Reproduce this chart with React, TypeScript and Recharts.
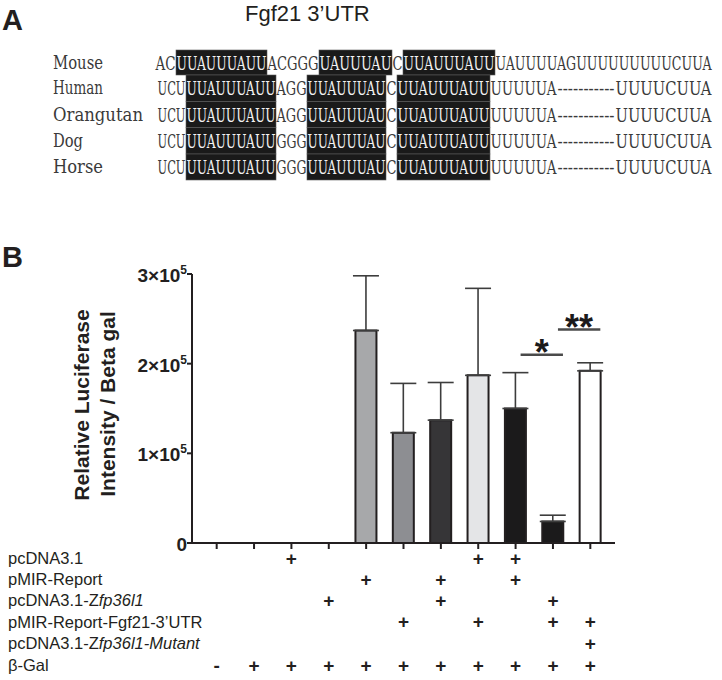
import React from 'react';
import { BarChart, Bar, XAxis, YAxis, Cell, ErrorBar, ReferenceLine } from 'recharts';

// ---- panel B data ----
const groups = ['1', '2', '3', '4', '5', '6', '7', '8', '9', '10', '11'];
const meanValues = [null, null, null, null, 237000, 123000, 137000, 187000, 150000, 24000, 192000];
const errorValues = [null, null, null, null, 61000, 55000, 42000, 97000, 40000, 7000, 9000];
const barColors = ['#fff', '#fff', '#fff', '#fff', '#a7a8aa', '#8d8e92', '#363537', '#e4e5e7', '#1b1a1b', '#1b1a1b', '#ffffff'];
const yTicks = [0, 100000, 200000, 300000];

// plus / minus table under the x axis
const rowLabels = ['pcDNA3.1', 'pMIR-Report', 'pcDNA3.1-Zfp36l1', 'pMIR-Report-Fgf21-3\u2019UTR', 'pcDNA3.1-Zfp36l1-Mutant', '\u03b2-Gal'];
const pcDNARow = ['', '', '+', '', '', '', '', '+', '+', '', ''];
const pMIRRow = ['', '', '', '', '+', '', '+', '', '+', '', ''];
const zfpRow = ['', '', '', '+', '', '', '+', '', '', '+', ''];
const fgfRow = ['', '', '', '', '', '+', '', '+', '', '+', '+'];
const mutantRow = ['', '', '', '', '', '', '', '', '', '', '+'];
const bGalRow = ['-', '+', '+', '+', '+', '+', '+', '+', '+', '+', '+'];
const tableRows = [pcDNARow, pMIRRow, zfpRow, fgfRow, mutantRow, bGalRow];

// significance marks: [from group, to group, height, stars]
const sigMarks: [string, string, number, string][] = [
  ['9', '10', 210000, '*'],
  ['10', '11', 238000, '**'],
];

// ---- panel A data ----
const species = ['Mouse', 'Human', 'Orangutan', 'Dog', 'Horse'];
const mouseSeq = ['AC', 'UUAUUUAUU', 'ACGGG', 'UAUUUAU', 'C', 'UUAUUUAUU', 'UAUUUUAGUUUUUUUUUCUUA'];
const humanSeq = ['UCU', 'UUAUUUAUU', 'AGG', 'UUAUUUAU', 'C', 'UUAUUUAUU', 'UUUUUA', '-----------', 'UUUUCUUA'];
const orangutanSeq = ['UCU', 'UUAUUUAUU', 'AGG', 'UUAUUUAU', 'C', 'UUAUUUAUU', 'UUUUUA', '-----------', 'UUUUCUUA'];
const dogSeq = ['UCU', 'UUAUUUAUU', 'GGG', 'UUAUUUAU', 'C', 'UUAUUUAUU', 'UUUUUA', '-----------', 'UUUUCUUA'];
const horseSeq = ['UCU', 'UUAUUUAUU', 'GGG', 'UUAUUUAU', 'C', 'UUAUUUAUU', 'UUUUUA', '-----------', 'UUUUCUUA'];
const sequences = [mouseSeq, humanSeq, orangutanSeq, dogSeq, horseSeq];
const boxedSegments = [1, 3, 5];

// layout for panel A (segment edges in px)
const mouseEdges = [155, 176, 267, 319, 392, 403, 495, 712];
const otherEdges = [157, 186, 276, 307, 386, 397, 490, 557, 615, 712];
const rowBands = [[50, 75], [75, 101.5], [101.5, 127.5], [127.5, 154], [154, 180]];

const data = groups.map((g, i) => ({
  group: g,
  mean: meanValues[i],
  err: errorValues[i] == null ? null : [0, errorValues[i]],
}));

const INK = '#231f20';
const SANS = "'Liberation Sans', Arial, sans-serif";
const SEQ = "'DejaVu Serif', 'Liberation Serif', serif";

function YTick(props: any) {
  const { x, y, payload } = props;
  const n = payload.value / 100000;
  return (
    <text x={x} y={y} dy={8} textAnchor="end" fontFamily={SANS} fontWeight="bold" fontSize={19} fill={INK}>
      {n === 0 ? '0' : (
        <>
          <tspan>{`${n}\u00d710`}</tspan>
          <tspan dy={-8} fontSize={12}>5</tspan>
        </>
      )}
    </text>
  );
}

const tableY = [558, 579, 600, 621.5, 643, 665];

function TableTick(props: any) {
  const { x, index } = props;
  return (
    <g>
      {tableRows.map((row, r) =>
        row[index] ? (
          <text key={r} x={x} y={tableY[r]} textAnchor="middle" dominantBaseline="central"
            fontFamily={SANS} fontWeight="bold" fontSize={19} fill={INK}>
            {row[index]}
          </text>
        ) : null,
      )}
    </g>
  );
}

function SigShape(stars: string) {
  return (p: any) => {
    const x1 = p.x1 + 5;
    const x2 = p.x2 + 10;
    return (
      <g>
        <line x1={x1} x2={x2} y1={p.y1} y2={p.y2} stroke="#4a4a4a" strokeWidth={2.5} />
        <text x={(x1 + x2) / 2} y={p.y1 + 10} textAnchor="middle" fontFamily={SANS}
          fontWeight="bold" fontSize={36} fill="#1b1a1b">{stars}</text>
      </g>
    );
  };
}

function RowLabel({ text, y }: { text: string; y: number }) {
  // gene names are set in italics
  const lead = 'pcDNA3.1-Z';
  return (
    <text x={8} y={y} dominantBaseline="central" fontFamily={SANS} fontSize={16.5} fill={INK}>
      {text.startsWith(lead) ? (
        <>
          <tspan>{lead}</tspan>
          <tspan fontStyle="italic">{text.slice(lead.length)}</tspan>
        </>
      ) : text}
    </text>
  );
}

function PanelA() {
  return (
    <g>
      <text x={2} y={30} fontFamily={SANS} fontWeight="bold" fontSize={29} fill={INK}>A</text>
      <text x={245} y={21} fontFamily={SANS} fontSize={22} fill={INK}>Fgf21 3{'\u2019'}UTR</text>
      {sequences.map((seq, r) => {
        const edges = r === 0 ? mouseEdges : otherEdges;
        const [top, bottom] = rowBands[r];
        const base = (top + bottom) / 2 + 7;
        return (
          <g key={r}>
            <text x={53} y={base - 1} fontFamily={SEQ} fontSize={18} fill="#3a3a3a"
              textLength={species[r].length * 10} lengthAdjust="spacingAndGlyphs">{species[r]}</text>
            {seq.map((s, k) => {
              const x0 = edges[k];
              const x1 = edges[k + 1];
              const boxed = boxedSegments.includes(k);
              return (
                <g key={k}>
                  {boxed && <rect x={x0} y={top} width={x1 - x0} height={bottom - top} fill="#1a1a1a" stroke="#5a5a5a" strokeWidth={0.6} />}
                  <text x={x0 + 0.5} y={base} fontFamily={SEQ} fontSize={19} fill={boxed ? '#f2f2f2' : '#3a3a3a'}
                    textLength={x1 - x0 - 1} lengthAdjust="spacingAndGlyphs">{s}</text>
                </g>
              );
            })}
          </g>
        );
      })}
    </g>
  );
}

export default function App() {
  return (
    <div style={{ position: 'absolute', left: 0, top: 0, width: 722, height: 680, background: '#fff', overflow: 'hidden' }}>
      <div style={{ position: 'absolute', left: 0, top: 0 }}>
        <BarChart width={722} height={680} data={data} barSize={21}
          margin={{ top: 274, right: 107, bottom: 7, left: 132 }}>
          <XAxis dataKey="group" type="category" interval={0} padding={{ left: 6, right: 6 }}
            axisLine={{ stroke: INK, strokeWidth: 2 }} tickLine={{ stroke: INK, strokeWidth: 2 }}
            tickSize={6} height={130} tick={TableTick} />
          <YAxis domain={[0, 300000]} ticks={yTicks} width={60} interval={0}
            axisLine={{ stroke: INK, strokeWidth: 2 }} tickLine={{ stroke: INK, strokeWidth: 2 }}
            tickSize={5} tickMargin={0} tick={YTick} />
          <Bar dataKey="mean" isAnimationActive={false} stroke={INK} strokeWidth={2}>
            {data.map((d, i) => <Cell key={d.group} fill={barColors[i]} />)}
            <ErrorBar dataKey="err" width={13} stroke="#3d3d3d" strokeWidth={1.6} direction="y" isAnimationActive={false} />
          </Bar>
          {sigMarks.map(([a, b, h, stars]) => (
            <ReferenceLine key={stars} segment={[{ x: a, y: h }, { x: b, y: h }]} shape={SigShape(stars)} />
          ))}
        </BarChart>
      </div>
      <svg width={722} height={680} style={{ position: 'absolute', left: 0, top: 0, pointerEvents: 'none' }}>
        <PanelA />
        <text x={2} y={267} fontFamily={SANS} fontWeight="bold" fontSize={29} fill={INK}>B</text>
        <text transform="translate(89,405) rotate(-90)" textAnchor="middle" fontFamily={SANS}
          fontWeight="bold" fontSize={21} fill={INK}>Relative Luciferase</text>
        <text transform="translate(115,404) rotate(-90)" textAnchor="middle" fontFamily={SANS}
          fontWeight="bold" fontSize={21} fill={INK}>Intensity / Beta gal</text>
        {rowLabels.map((l, r) => <RowLabel key={l} text={l} y={tableY[r]} />)}
      </svg>
    </div>
  );
}
